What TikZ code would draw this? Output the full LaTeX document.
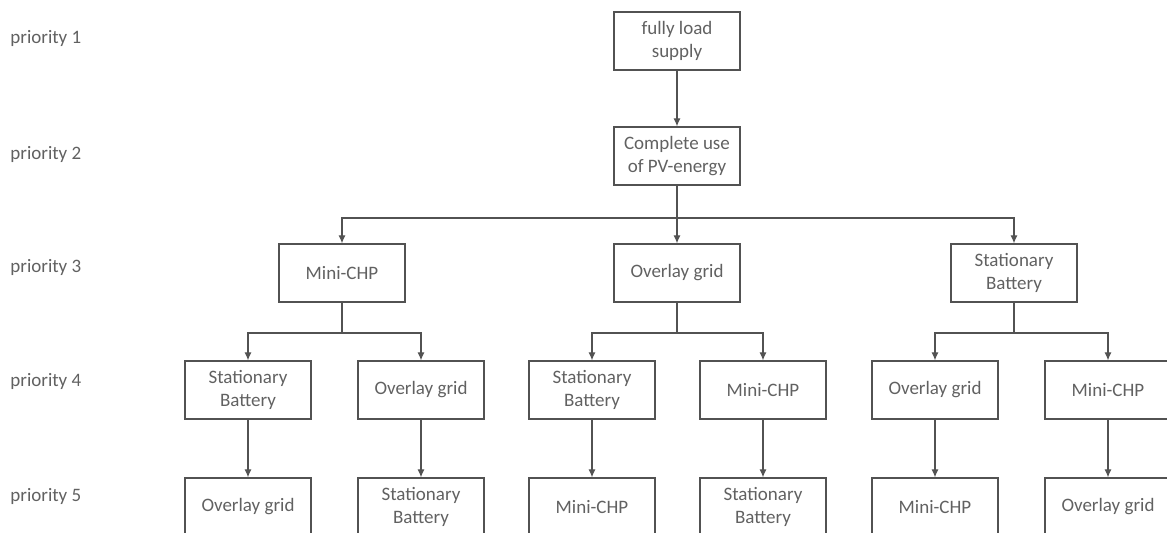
\documentclass[tikz,border=0pt]{standalone}
\usepackage{fontspec}
\setmainfont{Carlito}
\usepackage{tikz}
\usetikzlibrary{arrows.meta}
\definecolor{txtgray}{gray}{0.38}
\definecolor{linegray}{gray}{0.32}
\tikzstyle{block}=[draw=linegray, line width=0.6pt, minimum width=63pt, minimum height=29pt, inner sep=2pt, align=center, text=txtgray]
\tikzstyle{prio}=[anchor=west, inner sep=0pt, text=txtgray]
\tikzstyle{edge} = [draw=linegray, line width=0.6pt, -{Latex[length=4pt,width=3.5pt]}]

\begin{document}
\begin{tikzpicture}[x=0.5pt, y=-0.5pt, font=\fontsize{9.5}{11.5}\selectfont]

    \useasboundingbox (0,0) rectangle (1167,533);

    % priority labels
    \foreach \y/\n in {39/1, 155/2, 268/3, 381/4, 496/5}
        \node[prio] (prio\n) at (10, \y) {priority \n};

    % priority 1 to 3
    \foreach \x/\y/\name/\txt in {677/41/full/{fully load\\supply}, 677/156/pv/{Complete use\\of PV-energy},
                                  342/273/chp/{Mini-CHP}, 677/273/grid/{Overlay grid}, 1014/273/bat/{Stationary\\Battery}}
        \node[block] (\name) at (\x, \y) {\txt};

    % priority 4
    \foreach \x/\name/\txt in {248/chpbat/{Stationary\\Battery}, 421/chpgrid/{Overlay grid},
                               592/gridbat/{Stationary\\Battery}, 763/gridchp/{Mini-CHP},
                               935/batgrid/{Overlay grid}, 1108/batchp/{Mini-CHP}}
        \node[block] (\name) at (\x, 390) {\txt};

    % priority 5
    \foreach \x/\name/\txt in {248/chpbatgrid/{Overlay grid}, 421/chpgridbat/{Stationary\\Battery},
                               592/gridbatchp/{Mini-CHP}, 763/gridchpbat/{Stationary\\Battery},
                               935/batgridchp/{Mini-CHP}, 1108/batchpgrid/{Overlay grid}}
        \node[block] (\name) at (\x, 507) {\txt};

    \path[edge] (full) -- (pv);

    \foreach \dest in {chp, grid, bat}
        \path[edge] (pv.south) -- (pv.south |- 0,218) -| (\dest.north);

    \foreach \source/\dest in {chp/chpbat, chp/chpgrid, grid/gridbat, grid/gridchp, bat/batgrid, bat/batchp}
        \path[edge] (\source.south) -- (\source.south |- 0,333) -| (\dest.north);

    \foreach \source/\dest in {chpbat/chpbatgrid, chpgrid/chpgridbat, gridbat/gridbatchp,
                               gridchp/gridchpbat, batgrid/batgridchp, batchp/batchpgrid}
        \path[edge] (\source) -- (\dest);

\end{tikzpicture}
\end{document}
